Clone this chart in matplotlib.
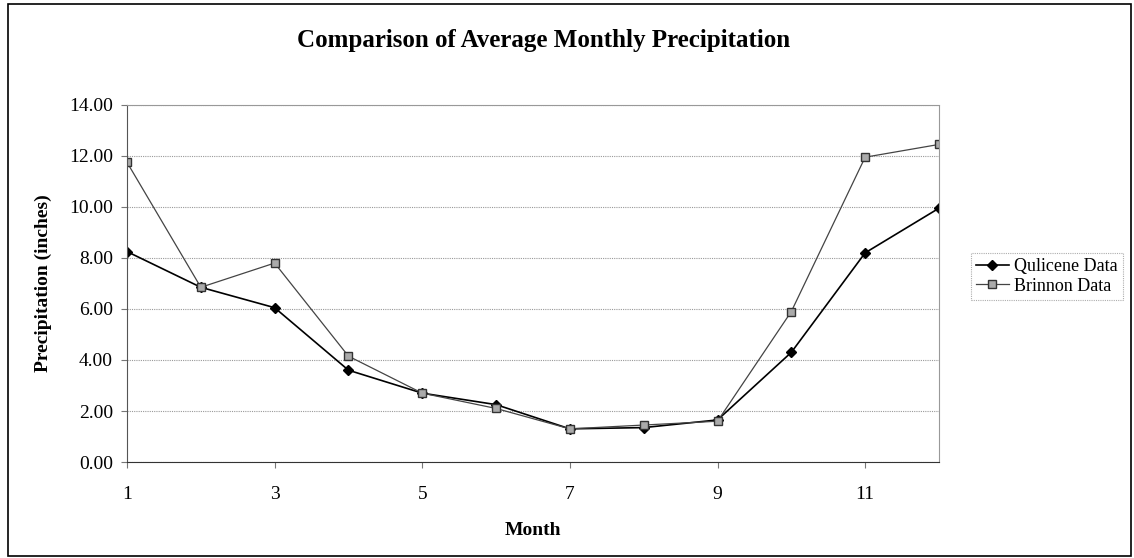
import matplotlib.pyplot as plt
from matplotlib.patches import Rectangle
from matplotlib.ticker import FormatStrFormatter

plt.rcParams['font.family'] = ['Liberation Serif', 'DejaVu Serif']

months = [1, 2, 3, 4, 5, 6, 7, 8, 9, 10, 11, 12]
qulicene = [8.25, 6.85, 6.05, 3.6, 2.7, 2.25, 1.3, 1.35, 1.65, 4.3, 8.2, 9.95]
brinnon = [11.75, 6.85, 7.8, 4.15, 2.7, 2.1, 1.3, 1.45, 1.6, 5.9, 11.95, 12.45]
xticks = [1, 3, 5, 7, 9, 11]
yticks = [0, 2, 4, 6, 8, 10, 12, 14]

fig = plt.figure(figsize=(11.34, 5.58), dpi=100)
ax = fig.add_axes([0.112, 0.172, 0.716, 0.640])

# outer chart frame
fig.patches.append(Rectangle((0.007, 0.003), 0.99, 0.99, transform=fig.transFigure,
                             fill=False, edgecolor='black', linewidth=1.2))

ax.plot(months, qulicene, color='black', linewidth=1.2, marker='D', markersize=5.5,
        markerfacecolor='black', markeredgecolor='black', label='Qulicene Data')
ax.plot(months, brinnon, color='#444444', linewidth=0.9, marker='s', markersize=5.5,
        markerfacecolor='#aaaaaa', markeredgecolor='#333333', label='Brinnon Data')

ax.set_xlim(1, 12)
ax.set_ylim(0, 14)
ax.set_xticks(xticks)
ax.set_yticks(yticks)
ax.yaxis.set_major_formatter(FormatStrFormatter('%.2f'))
ax.grid(axis='y', color='#999999', linestyle=(0, (1, 1)), linewidth=0.8)
ax.set_axisbelow(True)

for s in ['top', 'right']:
    ax.spines[s].set_color('#999999')
    ax.spines[s].set_linestyle((0, (1, 1)))
ax.spines['left'].set_color('#555555')
ax.spines['bottom'].set_color('#333333')
ax.tick_params(axis='both', labelsize=14, direction='out', length=4, color='#777777')
ax.tick_params(axis='x', pad=13)
ax.tick_params(axis='y', pad=6)

fig.text(0.479, 0.928, 'Comparison of Average Monthly Precipitation', fontsize=18,
         fontweight='bold', ha='center', va='center')
ax.set_xlabel('Month', fontsize=14, fontweight='bold', labelpad=14)
ax.set_ylabel('Precipitation (inches)', fontsize=14, fontweight='bold', labelpad=12)

leg = ax.legend(loc='center left', bbox_to_anchor=(1.028, 0.52), fontsize=13,
                frameon=True, fancybox=False, handlelength=1.8, borderpad=0.3,
                labelspacing=0.15, handletextpad=0.3)
leg.get_frame().set_edgecolor('#999999')
leg.get_frame().set_linestyle((0, (1, 1)))
leg.get_frame().set_linewidth(0.8)

fig.savefig('out.png', dpi=100)
